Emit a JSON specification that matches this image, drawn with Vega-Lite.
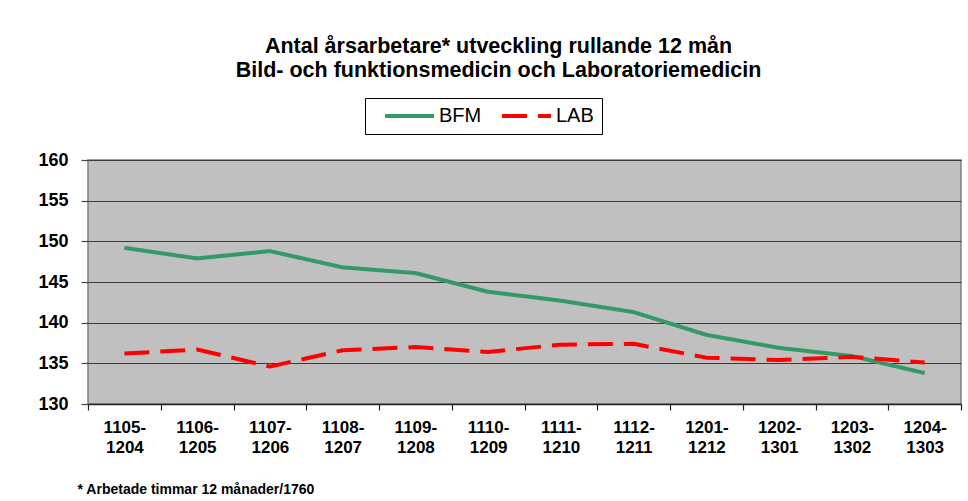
{
  "$schema": "https://vega.github.io/schema/vega-lite/v6.json",
  "width": 873,
  "height": 244,
  "autosize": {"type": "none"},
  "padding": {"left": 88, "top": 160, "right": 7, "bottom": 97},
  "background": "white",
  "title": {
    "text": ["Antal årsarbetare* utveckling rullande 12 mån", "Bild- och funktionsmedicin och Laboratoriemedicin"],
    "font": "Liberation Sans",
    "fontSize": 21.5,
    "fontWeight": "bold",
    "lineHeight": 24,
    "color": "black",
    "anchor": "middle",
    "dx": -26,
    "offset": 16
  },
  "data": {
    "values": [
      {"period": "1105-1204", "serie": "BFM", "value": 149.2},
      {"period": "1106-1205", "serie": "BFM", "value": 147.9},
      {"period": "1107-1206", "serie": "BFM", "value": 148.8},
      {"period": "1108-1207", "serie": "BFM", "value": 146.8},
      {"period": "1109-1208", "serie": "BFM", "value": 146.1},
      {"period": "1110-1209", "serie": "BFM", "value": 143.8},
      {"period": "1111-1210", "serie": "BFM", "value": 142.7},
      {"period": "1112-1211", "serie": "BFM", "value": 141.3},
      {"period": "1201-1212", "serie": "BFM", "value": 138.5},
      {"period": "1202-1301", "serie": "BFM", "value": 136.9},
      {"period": "1203-1302", "serie": "BFM", "value": 135.9},
      {"period": "1204-1303", "serie": "BFM", "value": 133.8},
      {"period": "1105-1204", "serie": "LAB", "value": 136.2},
      {"period": "1106-1205", "serie": "LAB", "value": 136.7},
      {"period": "1107-1206", "serie": "LAB", "value": 134.6},
      {"period": "1108-1207", "serie": "LAB", "value": 136.6},
      {"period": "1109-1208", "serie": "LAB", "value": 137.0},
      {"period": "1110-1209", "serie": "LAB", "value": 136.4},
      {"period": "1111-1210", "serie": "LAB", "value": 137.3},
      {"period": "1112-1211", "serie": "LAB", "value": 137.4},
      {"period": "1201-1212", "serie": "LAB", "value": 135.7},
      {"period": "1202-1301", "serie": "LAB", "value": 135.4},
      {"period": "1203-1302", "serie": "LAB", "value": 135.8},
      {"period": "1204-1303", "serie": "LAB", "value": 135.1}
    ]
  },
  "mark": {"type": "line", "strokeWidth": 4, "strokeCap": "butt", "strokeJoin": "round"},
  "encoding": {
    "x": {
      "field": "period",
      "type": "nominal",
      "sort": null,
      "bandPosition": 0.5,
      "scale": {"type": "band", "paddingInner": 0, "paddingOuter": 0},
      "axis": {
        "title": "* Arbetade timmar 12 månader/1760",
        "titleFont": "Liberation Sans",
        "titleFontSize": 14,
        "titleFontWeight": "bold",
        "titleColor": "black",
        "titleAlign": "left",
        "titleAnchor": null,
        "titleBaseline": "alphabetic",
        "titleX": -11,
        "titleY": 89,
        "labelExpr": "[slice(datum.label,0,5), slice(datum.label,5)]",
        "labelAngle": 0,
        "labelFont": "Liberation Sans",
        "labelFontSize": 17,
        "labelFontWeight": "bold",
        "labelColor": "black",
        "labelLineHeight": 20,
        "labelPadding": 9,
        "tickSize": 6,
        "tickBand": "extent",
        "tickColor": "#222222",
        "tickWidth": 1.2,
        "domainColor": "#222222",
        "domainWidth": 1.5,
        "grid": false
      }
    },
    "y": {
      "field": "value",
      "type": "quantitative",
      "scale": {"domain": [130, 160], "nice": false, "zero": false},
      "axis": {
        "title": null,
        "values": [130, 135, 140, 145, 150, 155, 160],
        "labelFont": "Liberation Sans",
        "labelFontSize": 18,
        "labelFontWeight": "bold",
        "labelColor": "black",
        "labelPadding": 13,
        "tickSize": 7,
        "tickColor": "#444444",
        "tickWidth": 1.2,
        "domain": false,
        "grid": true,
        "gridColor": "#3a3a3a",
        "gridWidth": 1.2
      }
    },
    "color": {
      "field": "serie",
      "type": "nominal",
      "scale": {"domain": ["BFM", "LAB"], "range": ["#339966", "#FF0000"]},
      "legend": {
        "orient": "none", "legendX": 277, "legendY": -62, "direction": "horizontal",
        "title": null, "strokeColor": "black", "fillColor": "white", "padding": 8,
        "labelFont": "Liberation Sans", "labelFontSize": 20, "labelColor": "black",
        "symbolType": "stroke", "symbolSize": 2401, "symbolStrokeWidth": 4, "clipHeight": 20,
        "symbolOffset": 10, "labelOffset": 3, "columnPadding": 8
      }
    },
    "strokeDash": {
      "field": "serie",
      "type": "nominal",
      "scale": {"domain": ["BFM", "LAB"], "range": [[1, 0], [25, 11]]},
      "legend": {
        "orient": "none", "legendX": 277, "legendY": -62, "direction": "horizontal",
        "title": null, "strokeColor": "black", "fillColor": "white", "padding": 8,
        "labelFont": "Liberation Sans", "labelFontSize": 20, "labelColor": "black",
        "symbolType": "stroke", "symbolSize": 2401, "symbolStrokeWidth": 4, "clipHeight": 20,
        "symbolOffset": 10, "labelOffset": 3, "columnPadding": 8
      }
    }
  },
  "config": {
    "view": {"fill": "#C0C0C0", "stroke": "#808080", "strokeWidth": 1.5}
  }
}
